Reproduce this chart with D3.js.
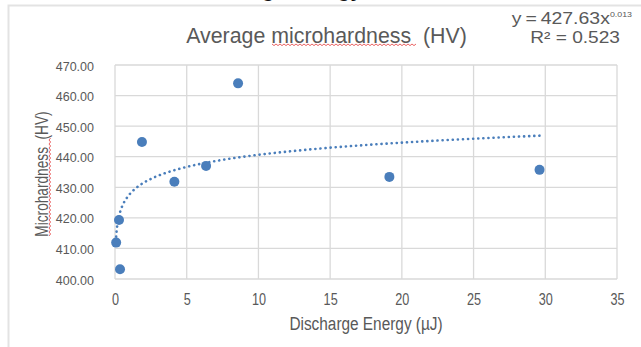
<!DOCTYPE html>
<html>
<head>
<meta charset="utf-8">
<script src="https://cdn.jsdelivr.net/npm/d3@7"></script>
<style>
  html, body { margin: 0; padding: 0; background: #fff; }
  svg { display: block; }
</style>
</head>
<body>
<div id="chart"></div>
<script>
// data
const energy = [0.08, 0.28, 0.35, 1.88, 4.14, 6.35, 8.58, 19.13, 29.6];
const hardness = [411.9, 419.3, 403.2, 444.8, 431.8, 437.0, 464.0, 433.4, 435.7];
const xTicks = [0, 5, 10, 15, 20, 25, 30, 35];
const yTicks = [400, 410, 420, 430, 440, 450, 460, 470];
// power trendline shown on the chart: y = 427.63 x^0.013
const trendA = 427.63;
const trendB = 0.013;

const W = 641, H = 347;
const margin = { top: 65, right: 24, bottom: 68, left: 115 };
const grey = "#595959";
const blue = "#4a7ebb";
const sans = "'Liberation Sans', Arial, sans-serif";

const svg = d3.select("#chart").append("svg").attr("width", W).attr("height", H);

// text squeezed/stretched sideways, the scan is not square
function label(x, y, str, size, sx, anchor) {
  return svg.append("text")
    .attr("transform", `translate(${x},${y}) scale(${sx},1)`)
    .attr("text-anchor", anchor || "middle")
    .attr("font-family", sans)
    .attr("font-size", size + "px")
    .attr("fill", grey)
    .text(str);
}

// outer chart frame (runs off the right/bottom of the picture)
svg.append("rect")
  .attr("x", 8.5).attr("y", 5.5)
  .attr("width", W + 20).attr("height", H + 20)
  .attr("fill", "none").attr("stroke", "#e3e3e3").attr("stroke-width", 2);

// heading cropped by the top edge of the picture
svg.append("text")
  .attr("x", 186).attr("y", -3)
  .attr("font-family", sans).attr("font-size", "20.7px").attr("font-weight", "700")
  .attr("fill", "#111")
  .text("Discharge Energy");

const x = d3.scaleLinear().domain([0, 35]).range([margin.left, W - margin.right]);
const y = d3.scaleLinear().domain([400, 470]).range([H - margin.bottom, margin.top]);

// gridlines
svg.append("g").selectAll("line").data(yTicks).enter().append("line")
  .attr("x1", x(0)).attr("x2", x(35))
  .attr("y1", (d) => y(d)).attr("y2", (d) => y(d))
  .attr("stroke", "#d9d9d9").attr("stroke-width", 1.3);
svg.append("g").selectAll("line").data(xTicks).enter().append("line")
  .attr("y1", y(400)).attr("y2", y(470))
  .attr("x1", (d) => x(d)).attr("x2", (d) => x(d))
  .attr("stroke", "#d9d9d9").attr("stroke-width", 1.3);

// y axis labels
const yAxis = svg.append("g")
  .attr("transform", `translate(${x(0) - 18},1)`)
  .call(d3.axisLeft(y).tickValues(yTicks).tickFormat(d3.format(".2f")).tickSize(0));
yAxis.select(".domain").remove();
yAxis.selectAll("text")
  .attr("font-family", sans).attr("font-size", "12.5px").attr("fill", grey);

// x axis labels
const xAxis = svg.append("g")
  .attr("transform", `translate(0,${y(400)})`)
  .call(d3.axisBottom(x).tickValues(xTicks).tickSize(0));
xAxis.select(".domain").remove();
xAxis.selectAll("text")
  .attr("y", 0).attr("dy", 0)
  .attr("transform", "translate(0,26) scale(0.79,1)")
  .attr("font-family", sans).attr("font-size", "16px").attr("fill", grey);

// trendline
const trend = d3.range(0, 61).map((i) => {
  const e = energy[0] * Math.pow(energy[energy.length - 1] / energy[0], i / 60);
  return [e, trendA * Math.pow(e, trendB)];
});
svg.append("path")
  .datum(trend)
  .attr("fill", "none")
  .attr("stroke", blue)
  .attr("stroke-width", 2.6)
  .attr("stroke-linecap", "round")
  .attr("stroke-dasharray", "0.1 5")
  .attr("d", d3.line().x((d) => x(d[0])).y((d) => y(d[1])));

// points
svg.append("g").selectAll("circle").data(energy).enter().append("circle")
  .attr("cx", (d) => x(d))
  .attr("cy", (d, i) => y(hardness[i]))
  .attr("r", 5)
  .attr("fill", blue);

// spell-check squiggle
function squiggle(x0, x1, yy) {
  let d = `M${x0},${yy}`;
  for (let px = x0, k = 0; px < x1; px += 2, k++) {
    d += `L${px + 2},${yy + (k % 2 ? 0 : 1.6)}`;
  }
  return d;
}

// title
label(326.5, 43, "Average microhardness\u00a0 (HV)", 22, 0.97);
svg.append("path")
  .attr("d", squiggle(272, 415, 44))
  .attr("fill", "none").attr("stroke", "#e23b3b").attr("stroke-width", 0.8);

// trendline equation
const eq = label(632, 23.5, "", 16.5, 1.18, "end");
eq.append("tspan").text("y\u2009=\u2009427.63x");
eq.append("tspan").attr("font-size", "7.5px").attr("dy", -7).text("0.013");
label(620, 42.5, "R² = 0.523", 16.5, 1.16, "end");

// axis titles
label(366, 330, "Discharge Energy (µJ)", 19, 0.81);

svg.append("text")
  .attr("transform", "translate(48,174) rotate(-90) scale(0.76,1)")
  .attr("text-anchor", "middle")
  .attr("font-family", sans).attr("font-size", "18px").attr("fill", grey)
  .text("Microhardness\u00a0 (HV)");
svg.append("path")
  .attr("transform", "rotate(-90)")
  .attr("d", squiggle(-236, -138, 49))
  .attr("fill", "none").attr("stroke", "#e23b3b").attr("stroke-width", 0.8);
</script>
</body>
</html>
